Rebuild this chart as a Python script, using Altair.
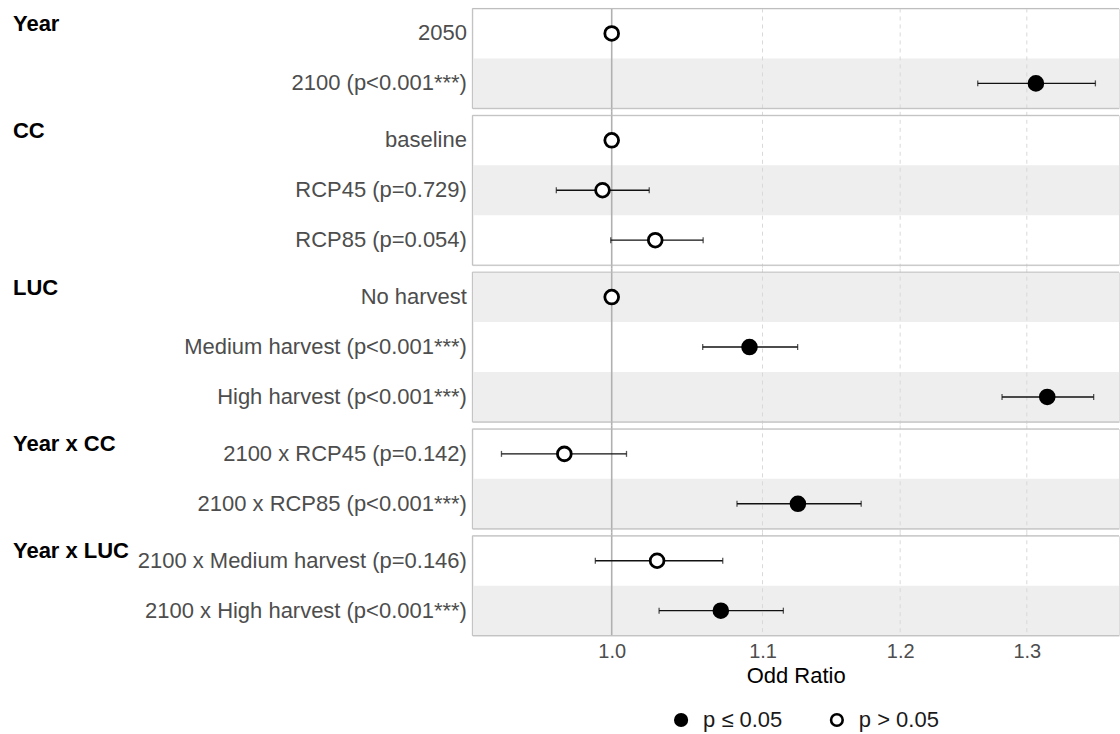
import altair as alt
import pandas as pd

# ---------------- data ----------------
groups = ["Year", "Year", "CC", "CC", "CC", "LUC", "LUC", "LUC",
          "Year x CC", "Year x CC", "Year x LUC", "Year x LUC"]
labels = ["2050", "2100 (p<0.001***)", "baseline", "RCP45 (p=0.729)", "RCP85 (p=0.054)",
          "No harvest", "Medium harvest (p<0.001***)", "High harvest (p<0.001***)",
          "2100 x RCP45 (p=0.142)", "2100 x RCP85 (p<0.001***)",
          "2100 x Medium harvest (p=0.146)", "2100 x High harvest (p<0.001***)"]
odds_ratio = [1.000, 1.3075, 1.000, 0.9942, 1.0279, 1.000, 1.0910, 1.3169,
              0.9705, 1.1249, 1.0291, 1.0714]
ci_low = [None, 1.2603, None, 0.9656, 0.9994, None, 1.0592, 1.2798,
          0.9327, 1.0824, 0.9897, 1.0304]
ci_high = [None, 1.3576, None, 1.0240, 1.0595, None, 1.1247, 1.3561,
           1.0094, 1.1708, 1.0727, 1.1146]
significance = ["p > 0.05", "p ≤ 0.05", "p > 0.05", "p > 0.05", "p > 0.05",
                "p > 0.05", "p ≤ 0.05", "p ≤ 0.05", "p > 0.05", "p ≤ 0.05",
                "p > 0.05", "p ≤ 0.05"]
group_order = ["Year", "CC", "LUC", "Year x CC", "Year x LUC"]
legend_levels = ["p ≤ 0.05", "p > 0.05"]
x_ticks = [1.0, 1.1, 1.2, 1.3]
grid_values = [1.1, 1.2, 1.3]
reference_value = [1.0]
x_domain = [0.9157, 1.378]

df = pd.DataFrame({
    "group": groups, "label": labels, "est": odds_ratio,
    "lo": ci_low, "hi": ci_high, "sig": significance,
})
df["band"] = [i % 2 for i in range(len(df))]

ROW = 50
W = 647.5
GAP = 7

xs = alt.Scale(type="log", domain=x_domain, nice=False)


def panel(i, g):
    d = df[df.group == g]
    order = list(d.label)
    h = ROW * len(order)
    first = i == 0
    last = i == len(group_order) - 1
    if last:
        xaxis = alt.Axis(values=x_ticks, format=".1f", grid=False, ticks=False,
                         domain=False, labelFontSize=20, labelColor="#4d4d4d",
                         labelPadding=6, title="Odd Ratio", titleFontSize=22,
                         titleFontWeight="normal", titleColor="black", titlePadding=4)
    else:
        xaxis = None
    yaxis = alt.Axis(title=g, titleAngle=0, titleAlign="left",
                     titleBaseline="alphabetic", titleX=-460.5, titleY=22,
                     titleFontSize=22, titleFontWeight="bold", titleColor="black",
                     labelFontSize=22, labelColor="#4d4d4d", labelPadding=6,
                     labelLimit=600, ticks=False, domain=False, grid=False)
    yenc = alt.Y("label:N", sort=order,
                 scale=alt.Scale(paddingInner=0, paddingOuter=0), axis=yaxis)

    base = alt.Chart(d)
    bands = base.transform_filter("datum.band == 1").mark_rect(
        color="#eeeeee").encode(x=alt.value(0), x2=alt.value(W), y=yenc)

    top_ext = 0 if first else -GAP / 2
    bot_ext = 0 if last else GAP / 2
    grid = alt.Chart(alt.Data(values=[{"v": v} for v in grid_values])).mark_rule(
        color="#d9d9d9", strokeWidth=1, strokeDash=[4, 4]).encode(
        x=alt.X("v:Q", scale=xs, axis=xaxis),
        y=alt.value(top_ext), y2=alt.value(h + bot_ext))
    ref = alt.Chart(alt.Data(values=[{"v": v} for v in reference_value])).mark_rule(
        color="#b0b0b0", strokeWidth=1.6).encode(
        x=alt.X("v:Q", scale=xs, axis=xaxis),
        y=alt.value(top_ext), y2=alt.value(h + bot_ext))

    err = base.transform_filter("isValid(datum.lo)")
    bars = err.mark_rule(color="#111111", strokeWidth=1.4).encode(
        x=alt.X("lo:Q", scale=xs, axis=xaxis), x2="hi:Q", y=yenc)
    cap_lo = err.mark_tick(color="#111111", orient="vertical", size=6,
                           thickness=1.3).encode(
        x=alt.X("lo:Q", scale=xs, axis=xaxis), y=yenc)
    cap_hi = err.mark_tick(color="#111111", orient="vertical", size=6,
                           thickness=1.3).encode(
        x=alt.X("hi:Q", scale=xs, axis=xaxis), y=yenc)

    pts = base.mark_point(shape="circle", filled=True, size=190, stroke="black",
                          strokeWidth=2.8, opacity=1).encode(
        x=alt.X("est:Q", scale=xs, axis=xaxis),
        y=yenc,
        fill=alt.Fill("sig:N", scale=alt.Scale(domain=legend_levels,
                                               range=["black", "white"]),
                      legend=alt.Legend(title=None, orient="none", legendX=198,
                                        legendY=701, direction="horizontal",
                                        symbolType="circle", symbolSize=135,
                                        symbolStrokeColor="black",
                                        symbolStrokeWidth=2.6, labelFontSize=22,
                                        labelColor="#1a1a1a", labelOffset=11,
                                        columnPadding=42, padding=0)),
    )

    frame_data = alt.Data(values=[{}])
    frame_top = alt.Chart(frame_data).mark_rule(color="#bdbdbd", strokeWidth=1).encode(
        x=alt.value(0), x2=alt.value(W), y=alt.value(0))
    frame_bot = alt.Chart(frame_data).mark_rule(color="#bdbdbd", strokeWidth=1).encode(
        x=alt.value(0), x2=alt.value(W), y=alt.value(h))
    frame_left = alt.Chart(frame_data).mark_rule(color="#bdbdbd", strokeWidth=1).encode(
        x=alt.value(0), y=alt.value(0), y2=alt.value(h))

    return alt.layer(bands, grid, ref, bars, cap_lo, cap_hi, pts,
                     frame_top, frame_bot, frame_left).properties(width=W, height=h)


panels = [panel(i, g) for i, g in enumerate(group_order)]

chart = alt.vconcat(*panels, spacing=GAP, bounds="flush").properties(
    padding={"left": 12, "top": 6, "right": 0, "bottom": 0},
).configure_view(stroke="transparent").configure(font="Liberation Sans")

chart.save("out.html", embed_options={"renderer": "svg", "actions": False})
